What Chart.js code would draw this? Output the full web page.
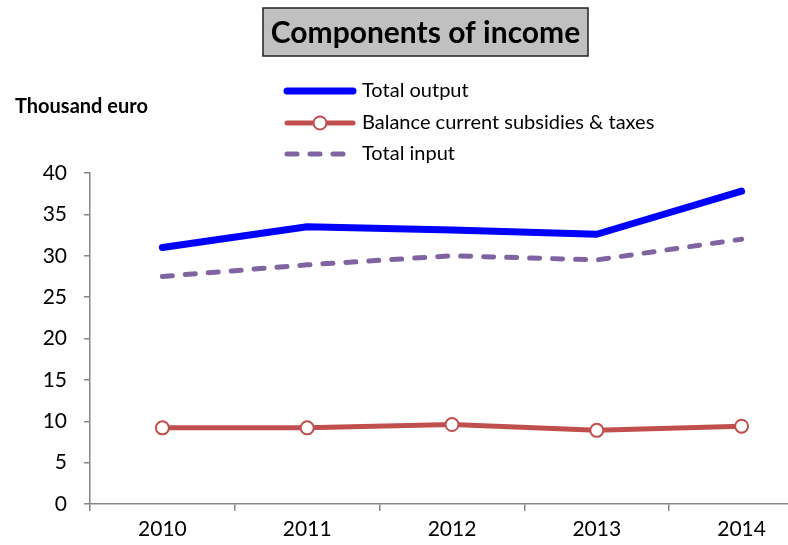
<!DOCTYPE html>
<html>
<head>
<meta charset="utf-8">
<script src="https://cdn.jsdelivr.net/npm/chart.js@4/dist/chart.umd.min.js"></script>
<style>
  html, body { margin: 0; padding: 0; background: #fff; overflow: hidden; }
  #wrap { position: relative; width: 788px; height: 545px; overflow: hidden; }
  canvas { display: block; }
</style>
</head>
<body>
<div id="wrap"><canvas id="incomeChart" width="830" height="545"></canvas></div>
<script>
// ---- data ----
const years      = ['2010', '2011', '2012', '2013', '2014'];
const totOutput  = [31.0, 33.5, 33.1, 32.6, 37.8];
const balSubTax  = [9.2, 9.2, 9.6, 8.9, 9.4];
const totInput   = [27.5, 28.9, 30.0, 29.5, 32.0];
const yTicks     = [0, 5, 10, 15, 20, 25, 30, 35, 40];

const FONT = 'Lato, "Open Sans", sans-serif';
const AXIS = '#868686';

// title box, unit label and the line legend drawn on top of the chart
const decor = {
  id: 'decor',
  afterDraw(chart) {
    const c = chart.ctx;
    c.save();
    // title
    c.fillStyle = '#c0c0c0';
    c.fillRect(263, 8, 325, 48);
    c.strokeStyle = '#222';
    c.lineWidth = 1.5;
    c.strokeRect(263, 8, 325, 48);
    c.fillStyle = '#000';
    c.font = 'bold 30px ' + FONT;
    c.textAlign = 'center';
    c.textBaseline = 'middle';
    c.fillText('Components of income', 425.5, 33);
    // unit
    c.font = 'bold 20px ' + FONT;
    c.textAlign = 'left';
    c.fillText('Thousand euro', 15, 107);
    // legend
    const rows = [91, 123, 154];
    chart.data.datasets.forEach((ds, i) => {
      const y = rows[i];
      c.beginPath();
      c.strokeStyle = ds.borderColor;
      c.lineWidth = ds.borderWidth;
      c.lineCap = 'round';
      c.setLineDash(ds.borderDash || []);
      c.moveTo(287, y);
      c.lineTo(353, y);
      c.stroke();
      c.setLineDash([]);
      if (ds.pointRadius > 0) {
        c.beginPath();
        c.arc(320, y, ds.pointRadius, 0, Math.PI * 2);
        c.fillStyle = ds.pointBackgroundColor;
        c.fill();
        c.lineWidth = ds.pointBorderWidth;
        c.strokeStyle = ds.pointBorderColor;
        c.stroke();
      }
      c.fillStyle = '#000';
      c.font = '20px ' + FONT;
      c.textBaseline = 'middle';
      c.fillText(ds.label, 362, y);
    });
    c.restore();
  }
};

new Chart(document.getElementById('incomeChart'), {
  type: 'line',
  data: {
    labels: years,
    datasets: [
      { label: 'Total output', data: totOutput, borderColor: '#0000ff', borderWidth: 7,
        pointRadius: 0, borderCapStyle: 'round', borderJoinStyle: 'round', tension: 0 },
      { label: 'Balance current subsidies & taxes', data: balSubTax, borderColor: '#c0504d', borderWidth: 5,
        pointRadius: 6.5, pointBackgroundColor: '#fff', pointBorderColor: '#c0504d', pointBorderWidth: 2,
        borderCapStyle: 'round', tension: 0 },
      { label: 'Total input', data: totInput, borderColor: '#8064a2', borderWidth: 5,
        borderDash: [10, 13], borderCapStyle: 'round', pointRadius: 0, tension: 0 }
    ]
  },
  options: {
    responsive: false,
    animation: false,
    layout: { padding: { top: 173, right: 16, left: 0, bottom: 0 } },
    plugins: { legend: { display: false }, tooltip: { enabled: false }, title: { display: false } },
    scales: {
      x: {
        offset: true,
        grid: { drawOnChartArea: false, drawTicks: true, tickLength: 7, color: AXIS, offset: true, lineWidth: 1.5 },
        border: { color: AXIS, width: 1.5 },
        ticks: { color: '#000', font: { family: FONT, size: 21 }, padding: 6, maxRotation: 0 },
        afterFit(s) { s.height = 41; }
      },
      y: {
        min: 0, max: 40,
        afterBuildTicks(s) { s.ticks = yTicks.map(v => ({ value: v })); },
        grid: { drawOnChartArea: false, drawTicks: true, tickLength: 6, color: AXIS, lineWidth: 1.5 },
        border: { color: AXIS, width: 1.5 },
        ticks: { color: '#000', font: { family: FONT, size: 21 }, padding: 17 },
        afterFit(s) { s.width = 90; }
      }
    }
  },
  plugins: [decor]
});
</script>
</body>
</html>
